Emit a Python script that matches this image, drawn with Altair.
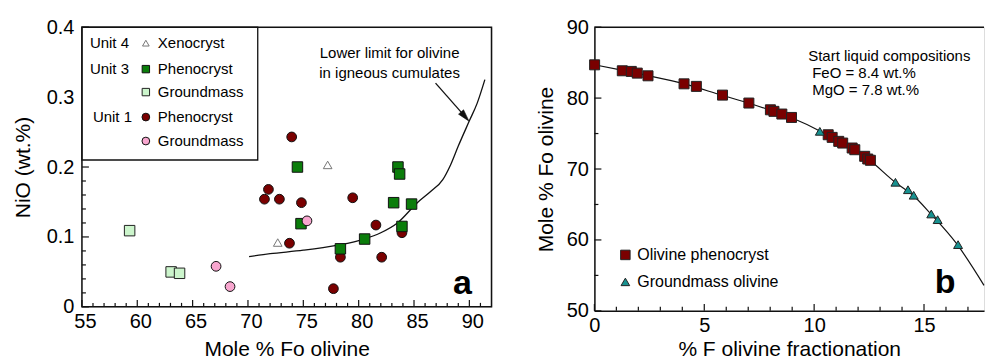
import altair as alt
import pandas as pd

FONT = "Liberation Sans"

# ---------------- Panel a: NiO vs Fo ----------------
u1_pheno_fo = [73.95, 71.85, 71.49, 72.84, 74.83, 79.46, 81.56, 73.75, 78.35, 82.08, 83.91, 77.72]
u1_pheno_ni = [0.243, 0.168, 0.154, 0.154, 0.149, 0.156, 0.117, 0.091, 0.071, 0.071, 0.106, 0.026]
u3_pheno_fo = [74.47, 83.55, 83.70, 83.16, 84.78, 74.79, 83.91, 80.54, 78.35]
u3_pheno_ni = [0.200, 0.200, 0.190, 0.149, 0.147, 0.119, 0.115, 0.097, 0.083]
u1_gm_fo = [75.33, 67.12, 68.38]
u1_gm_ni = [0.123, 0.058, 0.029]
u3_gm_fo = [59.31, 63.06, 63.82]
u3_gm_ni = [0.109, 0.050, 0.048]
u4_xeno_fo = [77.20, 72.69]
u4_xeno_ni = [0.203, 0.092]
limit_fo = [70.1, 72.0, 75.0, 78.0, 80.5, 82.0, 83.5, 85.3, 86.5, 87.6, 88.3, 89.0, 90.0, 90.7, 91.4]
limit_ni = [0.072, 0.076, 0.081, 0.088, 0.097, 0.106, 0.120, 0.149, 0.165, 0.182, 0.203, 0.230, 0.266, 0.291, 0.325]
a_x_major = [55, 60, 65, 70, 75, 80, 85, 90]
a_x_minor = [v for v in range(56, 92) if v % 5 != 0]
a_y_major = [0.0, 0.1, 0.2, 0.3, 0.4]
a_y_minor = [0.02, 0.04, 0.06, 0.08, 0.12, 0.14, 0.16, 0.18, 0.22, 0.24, 0.26, 0.28, 0.32, 0.34, 0.36, 0.38]

# ---------------- Panel b: Fo vs % F ----------------
phen_f = [0.01, 1.27, 1.68, 1.95, 2.44, 4.08, 4.64, 5.83, 7.03, 8.01, 8.17, 8.53, 8.97,
          10.64, 10.82, 11.12, 11.30, 11.73, 11.85, 12.30, 12.44, 12.56]
phen_fo = [84.69, 83.85, 83.76, 83.52, 83.14, 82.01, 81.65, 80.42, 79.30, 78.35, 78.13, 77.75, 77.27,
           74.83, 74.46, 73.90, 73.66, 72.96, 72.72, 71.79, 71.41, 71.23]
gm_f = [10.26, 13.70, 14.27, 14.53, 15.33, 15.62, 16.55]
gm_fo = [75.31, 68.13, 67.08, 66.30, 63.66, 62.86, 59.34]
curve_f = [0, 1.3, 2.4, 4.1, 5.8, 7.0, 8.0, 9.0, 10.3, 11.1, 11.8, 12.5, 13.7, 14.5, 15.3, 16.5, 17.73]
curve_fo = [84.7, 83.9, 83.2, 82.0, 80.4, 79.3, 78.3, 77.2, 75.3, 73.9, 72.8, 71.3, 68.1, 66.3, 63.7, 59.4, 53.6]
b_x_major = [0, 5, 10, 15]
b_x_minor = [v for v in range(1, 18) if v % 5 != 0]
b_y_major = [50, 60, 70, 80, 90]
b_y_minor = [55, 65, 75, 85]

W1, H1 = 410, 280
W2, H2 = 390, 284

DARKRED = "#7a0000"
GREEN = "#0b7d0b"
LIGHTGREEN = "#ccf5cc"
PINK = "#f8a6cf"
TEAL = "#17918f"

dummy = pd.DataFrame({"d": [0]})


def txt(s, x, y, size=15.5, align="left", weight="normal", baseline="middle"):
    return alt.Chart(dummy).mark_text(
        text=s, fontSize=size, font=FONT, align=align, baseline=baseline,
        fontWeight=weight, color="black"
    ).encode(x=alt.value(x), y=alt.value(y))


def sym(x, y, shape, fill, stroke, size):
    return alt.Chart(dummy).mark_point(
        shape=shape, filled=True, fill=fill, stroke=stroke, strokeWidth=1, size=size, opacity=1
    ).encode(x=alt.value(x), y=alt.value(y))


def axis_x(values, title, label_pad, title_pad, domain, label_offset=0):
    return alt.Axis(values=values, ticks=False, tickSize=0, domain=domain, domainColor="#111",
                    domainWidth=1.5, grid=False, labelFontSize=20, labelFont=FONT, labelColor="black",
                    labelPadding=label_pad, labelFlush=False, labelOverlap=False, labelOffset=label_offset,
                    title=title, titleFontSize=21, titleFont=FONT, titleFontWeight="normal",
                    titleColor="black", titlePadding=title_pad)


def axis_y(values, title, label_pad, title_pad, domain, expr=None):
    kw = dict(values=values, ticks=False, tickSize=0, domain=domain, domainColor="#111",
              domainWidth=1.5, grid=False, labelFontSize=20, labelFont=FONT, labelColor="black",
              labelPadding=label_pad, labelOverlap=False, title=title,
              titleFontSize=21, titleFont=FONT, titleFontWeight="normal", titleColor="black",
              titlePadding=title_pad)
    if expr:
        kw["labelExpr"] = expr
    return alt.Axis(**kw)


# ---------- Panel a layers ----------
xa = alt.Scale(domain=[55, 92], nice=False, zero=False)
ya = alt.Scale(domain=[0, 0.4], nice=False, zero=False)
AXA = axis_x(a_x_major, "Mole % Fo olivine", 5, 7, False, label_offset=3)
AYA = axis_y(a_y_major, "NiO (wt.%)", 8, 13, False,
             "datum.value == 0 ? '0' : format(datum.value, '.1f')")


def pts_a(fo, ni, shape, fill, stroke, size):
    return alt.Chart(pd.DataFrame({"fo": fo, "ni": ni})).mark_point(
        shape=shape, filled=True, fill=fill, stroke=stroke, strokeWidth=1, size=size, opacity=1
    ).encode(x=alt.X("fo:Q", scale=xa, axis=AXA), y=alt.Y("ni:Q", scale=ya, axis=AYA))


def xticks_a(vals, ln):
    return alt.Chart(pd.DataFrame({"v": vals})).mark_rule(color="#111", strokeWidth=1.2).encode(
        x=alt.X("v:Q", scale=xa, axis=AXA), y=alt.value(H1), y2=alt.value(H1 - ln))


def yticks_a(vals, ln):
    return alt.Chart(pd.DataFrame({"v": vals})).mark_rule(color="#111", strokeWidth=1.2).encode(
        y=alt.Y("v:Q", scale=ya, axis=AYA), x=alt.value(0), x2=alt.value(ln))


limit_line = alt.Chart(pd.DataFrame({"fo": limit_fo, "ni": limit_ni})).mark_line(
    color="#111", strokeWidth=1.3, interpolate="monotone"
).encode(
    x=alt.X("fo:Q", scale=xa, axis=AXA),
    y=alt.Y("ni:Q", scale=ya, axis=AYA),
)

arrow_line = alt.Chart(dummy).mark_rule(color="#111", strokeWidth=1.3).encode(
    x=alt.value(354), y=alt.value(56), x2=alt.value(384), y2=alt.value(90))
arrow_head = alt.Chart(dummy).mark_point(
    shape="M0,-1L0.55,1L-0.55,1Z", filled=True, fill="#111", stroke="#111", strokeWidth=0.5,
    size=150, angle=139, opacity=1
).encode(x=alt.value(383.5), y=alt.value(89.5))

frame_a = alt.Chart(dummy).mark_rect(fill=None, stroke="#111", strokeWidth=1.5).encode(
    x=alt.value(0), x2=alt.value(W1), y=alt.value(0), y2=alt.value(H1))
legend_box = alt.Chart(dummy).mark_rect(fill="white", stroke="#111", strokeWidth=1.3).encode(
    x=alt.value(0), x2=alt.value(176), y=alt.value(0), y2=alt.value(133))

left = alt.layer(
    limit_line,
    xticks_a(a_x_major, 7), xticks_a(a_x_minor, 4),
    yticks_a(a_y_major, 7), yticks_a(a_y_minor, 4),
    pts_a(u1_pheno_fo, u1_pheno_ni, "circle", DARKRED, "#111", 95),
    pts_a(u3_pheno_fo, u3_pheno_ni, "square", GREEN, "#111", 110),
    pts_a(u1_gm_fo, u1_gm_ni, "circle", PINK, "#111", 95),
    pts_a(u3_gm_fo, u3_gm_ni, "square", LIGHTGREEN, "#222", 110),
    pts_a(u4_xeno_fo, u4_xeno_ni, "triangle-up", "white", "#777", 75),
    arrow_line, arrow_head,
    txt("Lower limit for olivine", 308, 26, size=15, align="center"),
    txt("in igneous cumulates", 308, 46, size=15, align="center"),
    txt("a", 381, 267, size=34, align="center", weight="bold", baseline="alphabetic"),
    legend_box,
    txt("Unit 4", 8, 16, size=15), sym(64, 16, "triangle-up", "white", "#777", 45), txt("Xenocryst", 76, 16, size=15),
    txt("Unit 3", 8, 42, size=15), sym(64, 42, "square", GREEN, "#111", 55), txt("Phenocryst", 76, 42, size=15),
    sym(64, 65, "square", LIGHTGREEN, "#222", 55), txt("Groundmass", 76, 65, size=15),
    txt("Unit 1", 11, 90, size=15), sym(64, 90, "circle", DARKRED, "#111", 60), txt("Phenocryst", 76, 90, size=15),
    sym(64, 114, "circle", PINK, "#111", 60), txt("Groundmass", 76, 114, size=15),
    frame_a,
).properties(width=W1, height=H1)

# ---------- Panel b layers ----------
xb = alt.Scale(domain=[0, 17.73], nice=False, zero=False)
yb = alt.Scale(domain=[50, 90], nice=False, zero=False)
AXB = axis_x(b_x_major, "% F olivine fractionation", 5, 3, True)
AYB = axis_y(b_y_major, "Mole % Fo olivine", 6, 10, True)


def pts_b(f, fo, shape, fill, size):
    return alt.Chart(pd.DataFrame({"f": f, "fo": fo})).mark_point(
        shape=shape, filled=True, fill=fill, stroke="#222", strokeWidth=1, size=size, opacity=1
    ).encode(x=alt.X("f:Q", scale=xb, axis=AXB), y=alt.Y("fo:Q", scale=yb, axis=AYB))


def xticks_b(vals, ln):
    return alt.Chart(pd.DataFrame({"v": vals})).mark_rule(color="#111", strokeWidth=1.2).encode(
        x=alt.X("v:Q", scale=xb, axis=AXB), y=alt.value(H2), y2=alt.value(H2 - ln))


def yticks_b(vals, ln):
    return alt.Chart(pd.DataFrame({"v": vals})).mark_rule(color="#111", strokeWidth=1.2).encode(
        y=alt.Y("v:Q", scale=yb, axis=AYB), x=alt.value(0), x2=alt.value(ln))


frac_line = alt.Chart(pd.DataFrame({"f": curve_f, "fo": curve_fo})).mark_line(
    color="#111", strokeWidth=1.2, interpolate="monotone"
).encode(
    x=alt.X("f:Q", scale=xb, axis=AXB),
    y=alt.Y("fo:Q", scale=yb, axis=AYB),
)
top_line = alt.Chart(dummy).mark_rule(color="#111", strokeWidth=1.5).encode(
    x=alt.value(0), x2=alt.value(W2), y=alt.value(0))

right = alt.layer(
    frac_line,
    xticks_b(b_x_major, 7), xticks_b(b_x_minor, 4),
    yticks_b(b_y_major, 7), yticks_b(b_y_minor, 4),
    top_line,
    pts_b(phen_f, phen_fo, "square", DARKRED, 100),
    pts_b(gm_f, gm_fo, "triangle-up", TEAL, 80),
    txt("Start liquid compositions", 214, 29, size=15),
    txt("FeO = 8.4 wt.%", 218, 46, size=15),
    txt("MgO = 7.8 wt.%", 218, 63, size=15),
    sym(31, 228, "square", DARKRED, "#222", 90), txt("Olivine phenocryst", 43, 228, size=16),
    sym(31, 255, "triangle-up", TEAL, "#222", 75), txt("Groundmass olivine", 43, 255, size=16),
    txt("b", 351, 266, size=34, align="center", weight="bold", baseline="alphabetic"),
).properties(width=W2, height=H2)

chart = alt.hconcat(left, right, spacing=103, bounds="flush").properties(
    padding={"left": 11, "top": 16, "right": 0, "bottom": 0}
).configure_view(strokeWidth=0).configure(background="white")

chart.save("out.html", embed_options={"renderer": "svg", "actions": False})
